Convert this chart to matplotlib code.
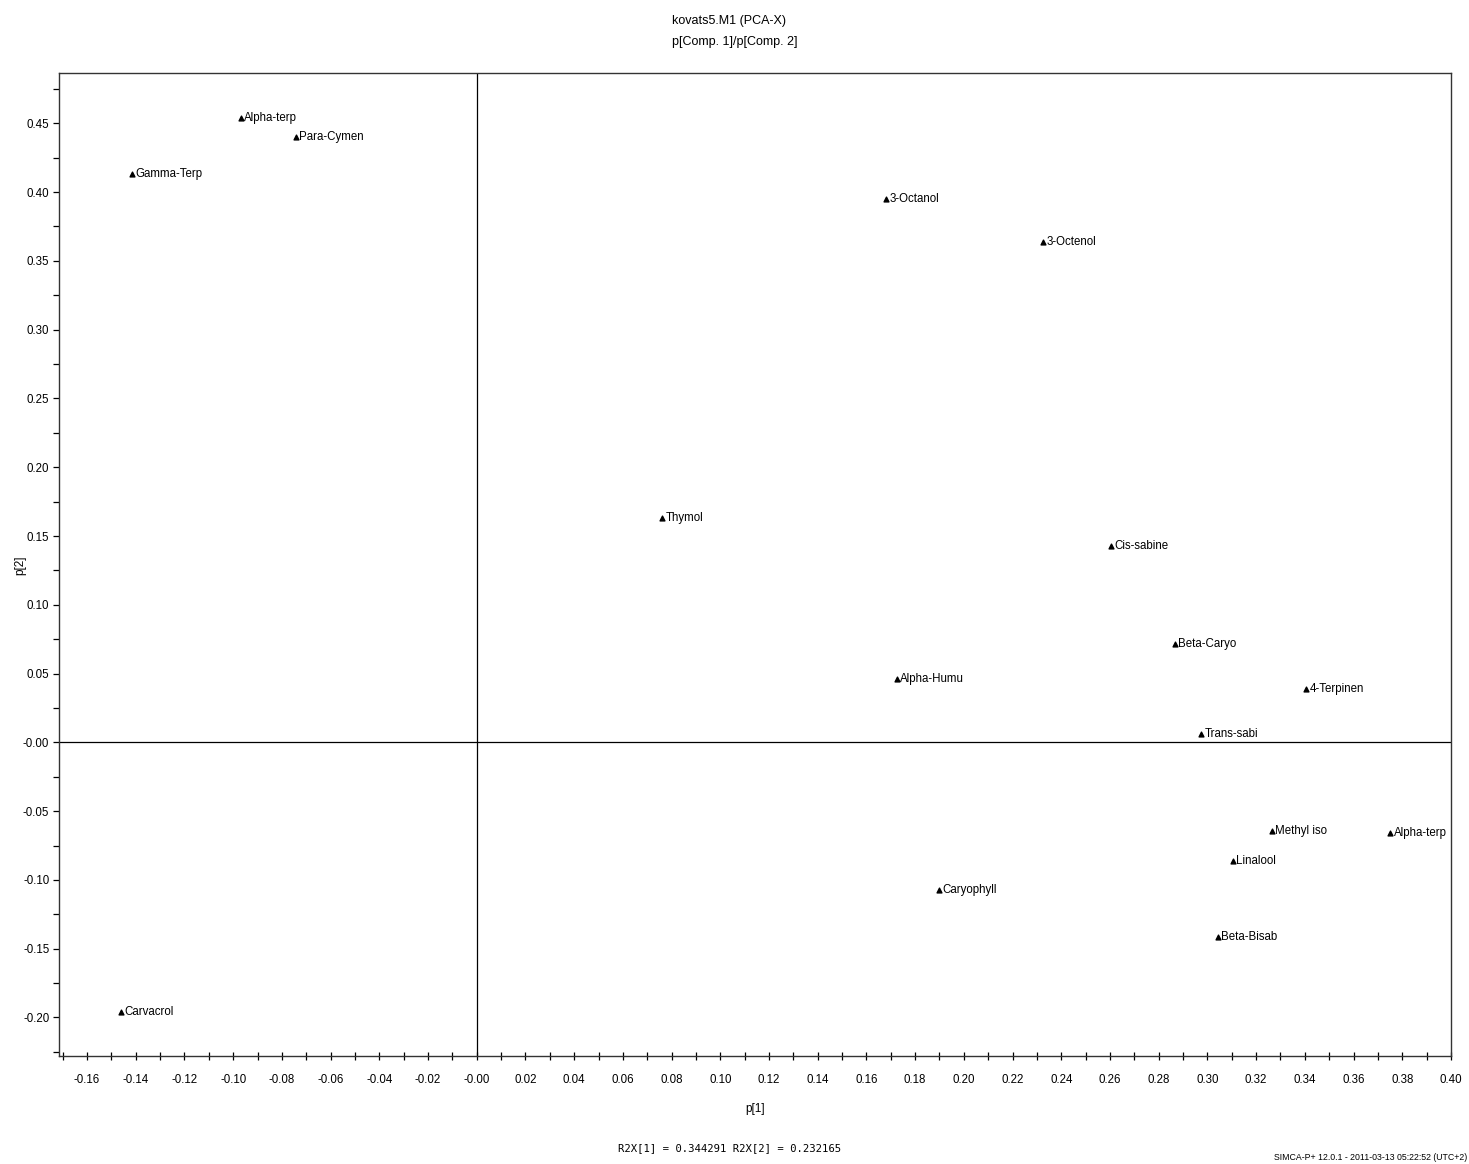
import matplotlib
matplotlib.use("Agg")
import matplotlib.pyplot as plt
from matplotlib.ticker import MultipleLocator

plt.rcParams["font.family"] = ["Liberation Sans", "DejaVu Sans"]

names = ["Alpha-terp", "Para-Cymen", "Gamma-Terp", "Carvacrol", "3-Octanol",
         "3-Octenol", "Thymol", "Cis-sabine", "Beta-Caryo", "Alpha-Humu",
         "4-Terpinen", "Trans-sabi", "Methyl iso", "Alpha-terp", "Linalool",
         "Caryophyll", "Beta-Bisab"]
p1 = [-0.0969, -0.0743, -0.1417, -0.1462, 0.1680,
      0.2324, 0.0760, 0.2604, 0.2867, 0.1725,
      0.3405, 0.2973, 0.3265, 0.3750, 0.3105,
      0.1897, 0.3043]
p2 = [0.4540, 0.4400, 0.4135, -0.1960, 0.3950,
      0.3634, 0.1628, 0.1424, 0.0712, 0.0458,
      0.0385, 0.0058, -0.0647, -0.0660, -0.0865,
      -0.1076, -0.1417]

fig = plt.figure(figsize=(14.69, 11.64), dpi=100)
ax = fig.add_axes([0.0402, 0.0928, 0.9475, 0.8445])

ax.scatter(p1, p2, marker="^", s=12, color="black", zorder=3)
for n, x, y in zip(names, p1, p2):
    ax.annotate(n, (x, y), xytext=(2.5, 0), textcoords="offset points",
                va="center", ha="left", fontsize=8.3)

ax.axhline(0, color="black", lw=0.9)
ax.axvline(0, color="black", lw=0.9)

ax.set_xlim(-0.1715, 0.40)
ax.set_ylim(-0.228, 0.4866)

ax.xaxis.set_major_locator(MultipleLocator(0.02))
ax.xaxis.set_minor_locator(MultipleLocator(0.01))
ax.yaxis.set_major_locator(MultipleLocator(0.05))
ax.yaxis.set_minor_locator(MultipleLocator(0.025))
ax.set_xticks(ax.get_xticks())
ax.set_yticks(ax.get_yticks())
ax.set_xticklabels(["-0.00" if abs(t) < 1e-9 else "%.2f" % t for t in ax.get_xticks()])
ax.set_yticklabels(["-0.00" if abs(t) < 1e-9 else "%.2f" % t for t in ax.get_yticks()])
ax.set_xlim(-0.1715, 0.40)
ax.set_ylim(-0.228, 0.4866)
ax.tick_params(axis="x", which="both", direction="inout", length=6, width=0.9, labelsize=8.3, pad=10)
ax.tick_params(axis="y", which="both", direction="out", length=4, width=0.9, labelsize=8.3, pad=3)

for s in ax.spines.values():
    s.set_color("#333333")
    s.set_linewidth(1.0)

ax.set_xlabel("p[1]", fontsize=8.5, labelpad=12)
fig.text(20 / 1469, 1 - 565 / 1164, "p[2]", rotation=90, ha="center", va="center", fontsize=8.5)

fig.text(672 / 1469, 1 - 21 / 1164, "kovats5.M1 (PCA-X)", ha="left", va="center", fontsize=9)
fig.text(672 / 1469, 1 - 42 / 1164, "p[Comp. 1]/p[Comp. 2]", ha="left", va="center", fontsize=9)
fig.text(730 / 1469, 1 - 1148 / 1164, "R2X[1] = 0.344291 R2X[2] = 0.232165",
         ha="center", va="center", fontsize=7.7, family="DejaVu Sans Mono")
fig.text(1467 / 1469, 1 - 1157 / 1164, "SIMCA-P+ 12.0.1 - 2011-03-13 05:22:52 (UTC+2)",
         ha="right", va="center", fontsize=6.3)

fig.savefig("out.png", dpi=100)
